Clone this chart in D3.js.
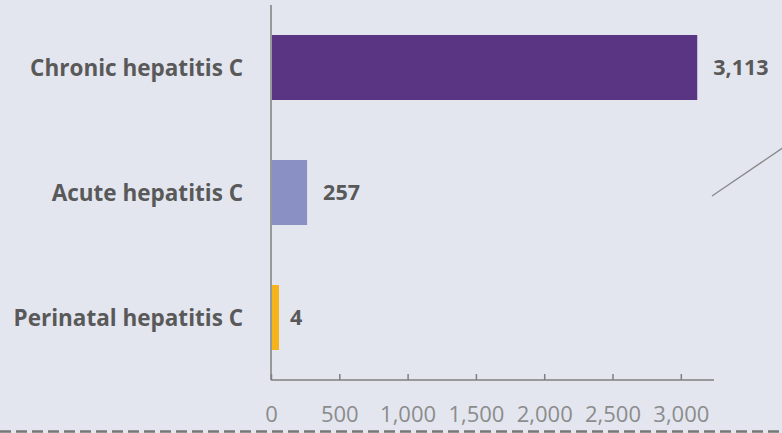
<!DOCTYPE html>
<html><head><meta charset="utf-8">
<script src="https://cdn.jsdelivr.net/npm/d3@7"></script>
<style>html,body{margin:0;padding:0;background:#e3e6ef;}svg{display:block;}</style>
</head><body>
<script>
const categories = ["Chronic hepatitis C", "Acute hepatitis C", "Perinatal hepatitis C"];
const values = [3113, 257, 4];
const colors = ["#5a3584", "#8a8fc4", "#f6b31a"];
const tickValues = [0, 500, 1000, 1500, 2000, 2500, 3000];

(function () {
const W = 782, H = 433;
const svg = d3.select("body").append("svg").attr("width", W).attr("height", H);
svg.append("rect").attr("width", W).attr("height", H).attr("fill", "#e3e6ef");

const mLeft = 271, mTop = 5, mBottom = 380, mRight = 714;
const x = d3.scaleLinear().domain([0, 3243]).range([mLeft, mRight]);
const y = d3.scaleBand().domain(categories).range([mTop, mBottom]).paddingInner(0.48).paddingOuter(0.24);

svg.selectAll("rect.bar").data(categories).enter().append("rect")
  .attr("class", "bar")
  .attr("x", x(0) + 1)
  .attr("y", d => y(d))
  .attr("width", (d, i) => Math.max(7, x(values[i]) - x(0)))
  .attr("height", y.bandwidth())
  .attr("fill", (d, i) => colors[i]);

svg.selectAll("text.val").data(categories).enter().append("text")
  .attr("x", (d, i) => Math.max(x(values[i]) + 17, x(0) + 19))
  .attr("y", d => y(d) + y.bandwidth() / 2)
  .attr("dy", "0.36em")
  .attr("font-family", "'Open Sans', sans-serif")
  .attr("font-weight", 700)
  .attr("font-size", 21.5)
  .attr("fill", "#595959")
  .text((d, i) => d3.format(",")(values[i]));

svg.selectAll("text.cat").data(categories).enter().append("text")
  .attr("x", 243)
  .attr("y", d => y(d) + y.bandwidth() / 2)
  .attr("dy", "0.36em")
  .attr("text-anchor", "end")
  .attr("font-family", "'Open Sans', sans-serif")
  .attr("font-weight", 700)
  .attr("font-size", 22.5)
  .attr("fill", "#595959")
  .text(d => d);

const xAxis = d3.axisBottom(x).tickValues(tickValues).tickFormat(d3.format(",")).tickSize(-6).tickPadding(26);
const gx = svg.append("g").attr("transform", `translate(0,${mBottom})`).call(xAxis);
gx.select(".domain").attr("stroke", "#7f7f7f").attr("stroke-width", 1.5).attr("d", `M${mLeft},0H${mRight}`);
gx.selectAll(".tick line").attr("stroke", "#7f7f7f").attr("stroke-width", 1.5);
gx.selectAll(".tick text").attr("font-family", "'Open Sans', sans-serif").attr("font-size", 22).attr("fill", "#8c8c8c");

svg.append("line").attr("x1", mLeft).attr("x2", mLeft).attr("y1", mTop).attr("y2", mBottom)
  .attr("stroke", "#7f7f7f").attr("stroke-width", 1.5);

svg.append("line").attr("x1", 712).attr("y1", 196).attr("x2", 784).attr("y2", 147)
  .attr("stroke", "#8a8a8a").attr("stroke-width", 1.3);

svg.append("line").attr("x1", 0).attr("x2", W).attr("y1", 431.5).attr("y2", 431.5)
  .attr("stroke", "#777777").attr("stroke-width", 2.5).attr("stroke-dasharray", "11,5");
})();
</script>
</body></html>
